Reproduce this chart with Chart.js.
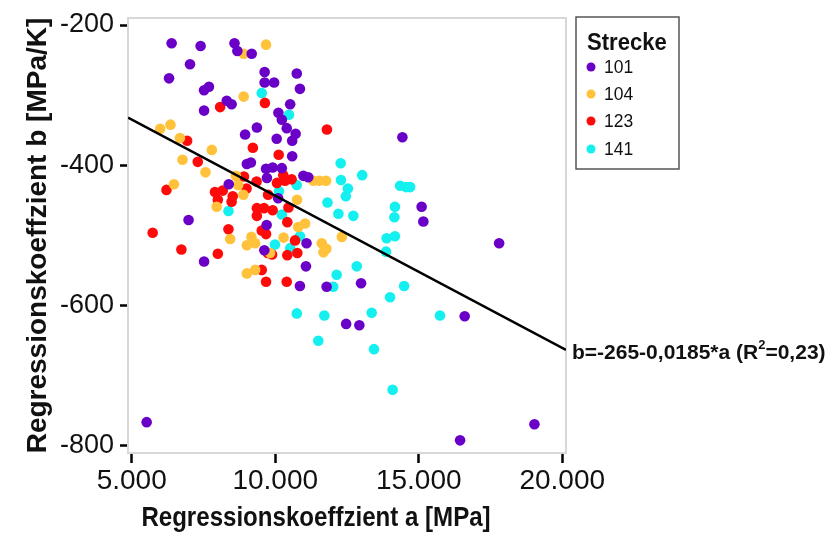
<!DOCTYPE html>
<html>
<head>
<meta charset="utf-8">
<script src="https://cdn.jsdelivr.net/npm/chart.js@4.4.1/dist/chart.umd.min.js"></script>
<style>
  html, body { margin: 0; padding: 0; background: #fff; }
  canvas { display: block; }
</style>
</head>
<body>
<canvas id="chart" width="835" height="536"></canvas>
<script>
// Strecke 101
const a101 = [6390,7400,8580,8680,9180,7030,6300,7520,7690,9630,10750,9630,9960,10860,8310,8480,7520,10520,10110,10230,9360,10400,10710,8950,10050,10590,10590,9010,9150,9680,9910,10230,9710,10980,11150,8380,14430,15100,15160,17800,10100,6980,9700,11090,9620,7520,11070,10860,11790,12990,16600,12470,12930,5520,19030,16440];
const b101 = [-226,-230,-226,-237,-241,-256,-276,-293,-288,-267,-269,-282,-282,-291,-308,-313,-322,-313,-325,-335,-346,-347,-355,-356,-362,-365,-387,-398,-396,-405,-403,-404,-418,-415,-417,-427,-360,-459,-480,-511,-447,-478,-485,-511,-521,-537,-544,-572,-573,-568,-615,-626,-628,-766,-769,-792];
// Strecke 104
const a104 = [9680,8900,8900,6350,5990,6680,7790,6770,7570,6470,8630,8710,8890,7960,8430,11330,11540,11770,10760,11040,10800,10290,9170,9300,9010,11620,11780,11680,12320,9820,9010,9300];
const b104 = [-228,-241,-302,-342,-348,-361,-378,-392,-410,-427,-415,-428,-442,-459,-505,-422,-422,-422,-449,-483,-488,-503,-502,-511,-514,-511,-519,-524,-502,-525,-554,-549];
// Strecke 123
const a123 = [8080,9640,11800,9220,10120,6930,7300,8910,9350,10280,10060,10340,10570,6210,7900,8170,8000,8520,8480,9000,9360,9610,9910,9360,10460,9750,5730,8370,9530,9680,10420,10690,6730,8000,9890,9740,10420,10770,9530,9680,10400];
const b123 = [-317,-311,-349,-375,-385,-365,-395,-416,-423,-414,-425,-422,-420,-435,-438,-436,-449,-444,-452,-433,-461,-461,-464,-472,-460,-442,-496,-491,-493,-498,-481,-507,-520,-526,-527,-525,-528,-525,-549,-566,-566];
// Strecke 141
const a141 = [9530,10480,12280,13030,12290,12530,12460,11820,12200,12720,14350,14560,14700,14170,14150,14170,13880,13860,12840,12140,12020,14490,14000,13360,11710,15740,10750,11500,13440,14090,10750,10130,8370,10230,10860,9990,10520];
const b141 = [-297,-328,-397,-414,-421,-433,-444,-453,-469,-472,-429,-431,-431,-459,-474,-501,-504,-523,-544,-556,-573,-572,-588,-610,-614,-614,-611,-650,-662,-720,-428,-437,-465,-470,-501,-513,-518];

// regression line as drawn (ends at the plot edges)
const lineA = [4870, 20130];
const lineB = [-332, -663];

const seriesNames = ['101', '104', '123', '141'];
const seriesColors = ['#6a00c8', '#ffc23a', '#ff0a0a', '#14f0f0'];
const seriesA = [a101, a104, a123, a141];
const seriesB = [b101, b104, b123, b141];

const xTicks = [5000, 10000, 15000, 20000];
const xTickLabels = ['5.000', '10.000', '15.000', '20.000'];
const yTicks = [-200, -400, -600, -800];
const yTickLabels = ['-200', '-400', '-600', '-800'];

const xTitle = 'Regressionskoeffzient a [MPa]';
const yTitle = 'Regressionskoeffzient b [MPa/K]';
const legendTitle = 'Strecke';
const formulaText = 'b=-265-0,0185*a (R';
const formulaSup = '2';
const formulaEnd = '=0,23)';

const font = '"Liberation Sans", Arial, sans-serif';

const pts = (xs, ys) => xs.map((x, i) => ({ x, y: ys[i] }));

// text squeezed sideways a little, like the source image
function squeezed(ctx, text, x, y, sx) {
  ctx.save();
  ctx.translate(x, y);
  ctx.scale(sx, 1);
  ctx.fillText(text, 0, 0);
  ctx.restore();
  return ctx.measureText(text).width * sx;
}

const decor = {
  id: 'decor',
  beforeDraw(chart) {
    const ctx = chart.ctx;
    ctx.save();
    ctx.fillStyle = '#fff';
    ctx.fillRect(0, 0, chart.width, chart.height);
    ctx.restore();
  },
  beforeDatasetsDraw(chart) {
    const { ctx, chartArea: ca } = chart;
    ctx.save();
    ctx.strokeStyle = '#d8d8d8';
    ctx.lineWidth = 2;
    ctx.strokeRect(ca.left, ca.top, ca.right - ca.left, ca.bottom - ca.top);
    ctx.restore();
  },
  afterDraw(chart) {
    const ctx = chart.ctx;
    ctx.save();
    ctx.fillStyle = '#111';
    ctx.textBaseline = 'middle';

    // x axis title
    ctx.font = 'bold 28px ' + font;
    ctx.textAlign = 'center';
    squeezed(ctx, xTitle, 316, 518, 0.86);

    // legend box
    ctx.strokeStyle = '#555';
    ctx.lineWidth = 1.5;
    ctx.strokeRect(576, 17, 103, 152);
    ctx.textAlign = 'left';
    ctx.font = 'bold 24px ' + font;
    squeezed(ctx, legendTitle, 587, 43, 0.92);
    ctx.font = '19px ' + font;
    const ys = [67, 94, 121, 149];
    chart.data.datasets.slice(1).forEach((ds, i) => {
      ctx.fillStyle = ds.backgroundColor;
      ctx.beginPath();
      ctx.arc(591, ys[i], 4.5, 0, Math.PI * 2);
      ctx.fill();
      ctx.fillStyle = '#111';
      squeezed(ctx, ds.label, 604, ys[i] + 1, 0.92);
    });

    // regression formula
    ctx.font = 'bold 21px ' + font;
    let x = 572;
    x += squeezed(ctx, formulaText, x, 353, 1.0);
    ctx.font = 'bold 13px ' + font;
    x += squeezed(ctx, formulaSup, x, 345, 1.0);
    ctx.font = 'bold 21px ' + font;
    squeezed(ctx, formulaEnd, x, 353, 1.0);
    ctx.restore();
  }
};

const datasets = [{
  type: 'line',
  label: 'Regression',
  data: pts(lineA, lineB),
  borderColor: '#000',
  borderWidth: 2.5,
  pointRadius: 0,
  order: 0
}];
seriesNames.forEach((name, i) => {
  datasets.push({
    type: 'scatter',
    label: name,
    data: pts(seriesA[i], seriesB[i]),
    backgroundColor: seriesColors[i],
    borderWidth: 0,
    pointRadius: 5.3,
    order: 1
  });
});

new Chart(document.getElementById('chart'), {
  type: 'scatter',
  data: { datasets },
  options: {
    responsive: false,
    animation: false,
    events: [],
    layout: { padding: { left: 0, top: 18, right: 269, bottom: 0 } },
    plugins: { legend: { display: false }, tooltip: { enabled: false } },
    scales: {
      x: {
        type: 'linear',
        min: 4870,
        max: 20130,
        afterBuildTicks: s => { s.ticks = xTicks.map(v => ({ value: v })); },
        afterFit: s => { s.height = 83; s.paddingLeft = 0; s.paddingRight = 0; },
        border: { display: false },
        grid: { drawOnChartArea: false, drawTicks: true, tickLength: 10, tickColor: '#000', tickWidth: 2.5 },
        ticks: {
          padding: 1,
          color: '#111',
          font: { family: font, size: 28 },
          maxRotation: 0,
          callback: v => xTickLabels[xTicks.indexOf(v)]
        }
      },
      y: {
        type: 'linear',
        min: -810,
        max: -190,
        afterBuildTicks: s => { s.ticks = yTicks.map(v => ({ value: v })); },
        afterFit: s => { s.width = 128; s.paddingTop = 0; s.paddingBottom = 0; },
        border: { display: false },
        grid: { drawOnChartArea: false, drawTicks: true, tickLength: 8, tickColor: '#000', tickWidth: 2.5 },
        title: {
          display: true,
          text: yTitle,
          color: '#111',
          font: { family: font, size: 28, weight: 'bold' },
          padding: { top: 21, bottom: 0 }
        },
        ticks: {
          padding: 6,
          color: '#111',
          font: { family: font, size: 27 },
          callback: v => yTickLabels[yTicks.indexOf(v)]
        }
      }
    }
  },
  plugins: [decor]
});
</script>
</body>
</html>
